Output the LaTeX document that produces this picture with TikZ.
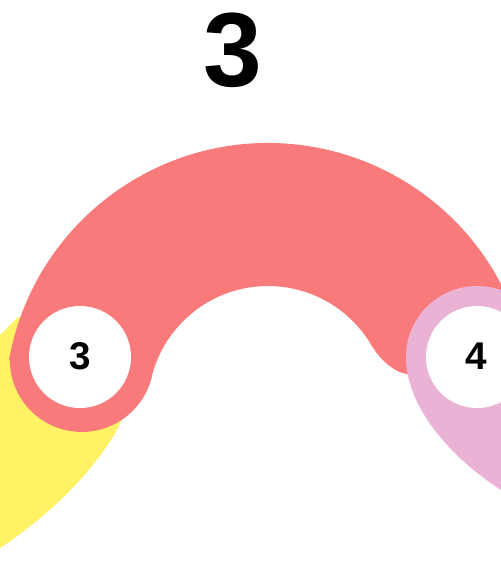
\documentclass[tikz,border=0pt]{standalone}
\usepackage{fontspec}
\setmainfont{Liberation Sans}
\usetikzlibrary{calc}
\definecolor{segred}{RGB}{248,122,122}
\definecolor{segpink}{RGB}{234,178,212}
\definecolor{segyellow}{RGB}{255,242,100}
\tikzset{
  redseg/.style={fill=segred},
  pinkseg/.style={fill=segpink},
  yellowseg/.style={fill=segyellow},
  numdisc/.style={fill=white},
  numlabel/.style={inner sep=0pt, font=\fontsize{22}{24}\selectfont\bfseries},
  titlelabel/.style={inner sep=0pt, font=\fontsize{60}{64}\selectfont\bfseries}
}
\begin{document}
\begin{tikzpicture}[x=0.02cm, y=-0.02cm]
\useasboundingbox (0,0) rectangle (501,576);
\clip (0,0) rectangle (501,576);
\coordinate (C) at (268,406);
% yellow segment (2)
\path[yellowseg] (-10,332) -- (0,335) -- (17,318) -- (60,300) -- (130,400) -- (118,428)
  .. controls (95,470) and (50,515) .. (0,548) -- (-10,552) -- cycle;
% red segment (3)
\path[redseg] ($(C)+(190:263)$) arc[start angle=190, end angle=345, radius=263]
  -- (530,420) -- (440,400) -- (407,374)
  .. controls (395,373) and (379.5,359) .. ($(C)+(330:120)$)
  arc[start angle=330, end angle=196, radius=120]
  arc[start angle=10.4, end angle=180, radius=72] -- cycle;
% pink segment (4)
\path[pinkseg] (406,357) .. controls (406,400) and (440,450) .. (501,490)
  -- (540,490) -- (540,357) -- cycle;
\path[pinkseg] (477,357) circle[radius=71];
% number discs
\path[numdisc] (80,357) circle[radius=51];
\path[numdisc] (477,357) circle[radius=51];
\node[numlabel] (n3) at (80,356) {3};
\node[numlabel] (n4) at (476,356) {4};
\node[titlelabel] (title) at (232.5,50.5) {3};
\end{tikzpicture}
\end{document}
